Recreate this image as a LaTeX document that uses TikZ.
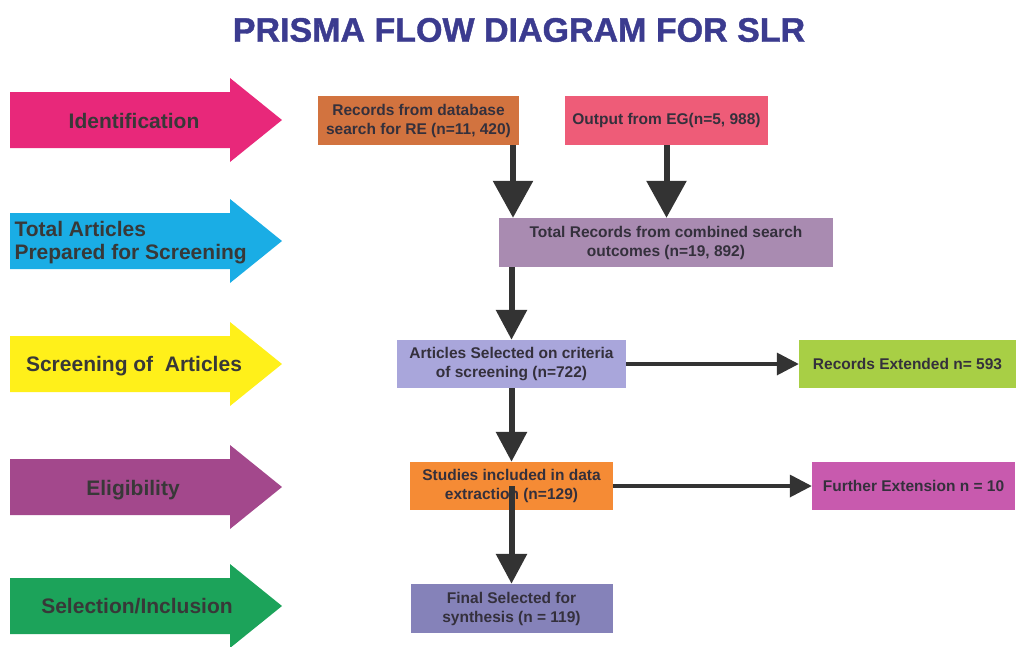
\documentclass[tikz,border=0pt]{standalone}
\usepackage{fontspec}
\setmainfont{Liberation Sans}
\newfontface\titleface{Liberation Sans Bold}[FakeBold=1.2]
\usepackage{tikz}
\usetikzlibrary{arrows.meta,positioning,calc}
\usepackage{xcolor}
\definecolor{prismatitle}{RGB}{59,59,143}
\definecolor{stagepink}{RGB}{232,40,122}
\definecolor{stagecyan}{RGB}{26,173,229}
\definecolor{stageyellow}{RGB}{255,240,26}
\definecolor{stagepurple}{RGB}{163,72,140}
\definecolor{stagegreen}{RGB}{28,163,90}
\definecolor{boxbrown}{RGB}{210,115,63}
\definecolor{boxrose}{RGB}{238,92,120}
\definecolor{boxmauve}{RGB}{169,139,177}
\definecolor{boxlavender}{RGB}{169,166,219}
\definecolor{boxlime}{RGB}{168,207,69}
\definecolor{boxorange}{RGB}{245,139,53}
\definecolor{boxmagenta}{RGB}{200,90,174}
\definecolor{boxslate}{RGB}{133,130,185}
\definecolor{flowgray}{RGB}{51,51,51}
\definecolor{boxtext}{RGB}{52,48,60}
\tikzset{
    stagetext/.style={font=\fontsize{21}{23}\selectfont\bfseries, text=black!78},
    recbox/.style={rectangle, minimum height=49pt, inner sep=0pt, align=center, font=\fontsize{15.5}{19}\selectfont\bfseries, text=boxtext},
    vflow/.style={draw=flowgray, line width=6pt, -{Triangle[length=30pt,width=30pt]}},
    bigflow/.style={vflow, -{Triangle[length=37pt,width=39pt]}},
    hflow/.style={draw=flowgray, line width=3.5pt, -{Triangle[length=22pt,width=22pt]}},
}
\begin{document}
\begin{tikzpicture}[x=1pt, y=-1pt]
    \useasboundingbox (0,0) rectangle (1016,646);

    % Title
    \node[font=\fontsize{34}{40}\selectfont\titleface, text=prismatitle] (title) at (519,30) {PRISMA FLOW DIAGRAM FOR SLR};

    % Stage arrows
    \foreach \y/\col in {120/stagepink, 241/stagecyan, 364/stageyellow, 487/stagepurple, 606/stagegreen}
        \fill[\col] (10,\y-28) -- (230,\y-28) -- (230,\y-42) -- (282,\y) -- (230,\y+42) -- (230,\y+28) -- (10,\y+28) -- cycle;
    \node[stagetext] (sIdent) at (134,121) {Identification};
    \node[stagetext, anchor=west, align=left] (sTotal) at (11,243) {Total Articles\\Prepared for Screening};
    \node[stagetext] (sScreen) at (134,366) {Screening of\ \ Articles};
    \node[stagetext] (sElig) at (133,490) {Eligibility};
    \node[stagetext] (sSelect) at (137,606) {Selection/Inclusion};

    % Record boxes
    \node[recbox, fill=boxbrown, minimum width=201pt] (rDb) at (418.5,120.5) {Records from database\\search for RE (n=11, 420)};
    \node[recbox, fill=boxrose, minimum width=203pt] (rEg) at (666.5,120.5) {Output from EG(n=5, 988)};
    \node[recbox, fill=boxmauve, minimum width=334pt] (rAll) at (666,242.5) {Total Records from combined search\\outcomes (n=19, 892)};
    \node[recbox, fill=boxlavender, minimum width=229pt, minimum height=48pt] (rSel) at (511.5,364) {Articles Selected on criteria\\of screening (n=722)};
    \node[recbox, fill=boxlime, minimum width=217pt, minimum height=48pt] (rExt) at (907.5,364) {Records Extended n= 593};
    \node[recbox, fill=boxorange, minimum width=203pt, minimum height=48pt] (rStudy) at (511.5,486) {Studies included in data\\extraction (n=129)};
    \node[recbox, fill=boxmagenta, minimum width=203pt, minimum height=48pt] (rFurther) at (913.5,486) {Further Extension n = 10};
    \node[recbox, fill=boxslate, minimum width=202pt] (rFinal) at (511.5,608.5) {Final Selected for\\synthesis (n = 119)};

    % Flow arrows
    \coordinate (leftflow) at (513,0);
    \draw[bigflow] (rDb.south -| leftflow) -- (rAll.north -| leftflow);
    \draw[bigflow] (rEg.south) -- (rEg.south |- rAll.north);
    \draw[vflow] (rAll.south -| rSel) -- (rSel.north);
    \draw[vflow] (rSel.south) -- (rStudy.north);
    \draw[vflow] (rStudy.center) -- (rFinal.north);
    \draw[hflow] (rSel.east) -- (rExt.west);
    \draw[hflow] (rStudy.east) -- (rFurther.west);
\end{tikzpicture}
\end{document}
